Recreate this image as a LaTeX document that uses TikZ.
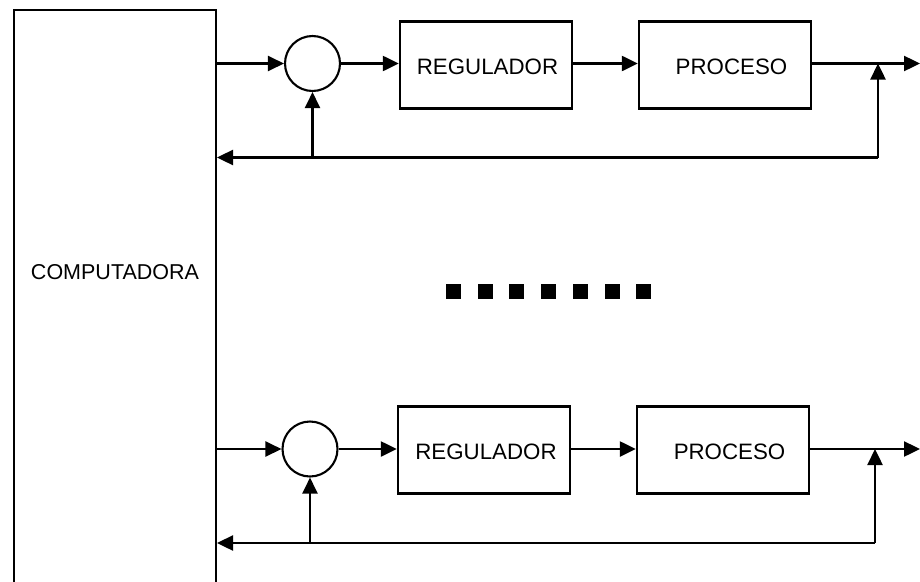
\documentclass[tikz,border=0pt]{standalone}
\usepackage{fontspec}
\setmainfont{Liberation Sans}
\usetikzlibrary{arrows.meta}
\begin{document}
\begin{tikzpicture}[x=1pt,y=-1pt,
  line/.style={line width=2.4pt},
  arr/.style={line width=2.4pt,-{Triangle[length=16pt,width=15pt]}},
  blk/.style={draw,line width=2.4pt,rectangle,minimum width=172pt,minimum height=87pt,inner sep=0pt},
  sumc/.style={draw,line width=2.1pt,circle,minimum size=55pt,inner sep=0pt},
  lbl/.style={font=\fontsize{22.3}{25}\selectfont,inner sep=0pt},
  clbl/.style={font=\fontsize{21.5}{24}\selectfont,inner sep=0pt},
  dot/.style={fill=black,minimum size=15pt,inner sep=0pt,rectangle}]
\clip (0,0) rectangle (920,581);
\fill[white] (0,0) rectangle (920,581);
% computer
\draw[line] (14,600) -- (14,10) -- (216,10) -- (216,600);
\node[clbl] (comp) at (115,272) {COMPUTADORA};
% ---- row 1
\node[sumc] (s1) at (312.5,63.5) {};
\node[blk] (r1) at (486,65) {};
\node[lbl] (r1t) at (487.5,66.5) {REGULADOR};
\node[blk] (p1) at (725,65) {};
\node[lbl] (p1t) at (731.5,66.5) {PROCESO};
\coordinate (in1) at (216,63.5);
\coordinate (j1) at (878,63.5);
\coordinate (c1) at (878,157.5);
\coordinate (fb1) at (217,157.5);
\coordinate (out1) at (920,63.5);
\draw[arr] (in1) -- (s1.west);
\draw[arr] (s1.east) -- (r1.west |- s1.east);
\draw[arr] (r1.east |- s1.east) -- (p1.west |- s1.east);
\draw[arr] (p1.east |- s1.east) -- (out1);
\draw[arr] (c1) -- (j1);
\draw[arr] (c1) -- (fb1);
\draw[arr] (s1.south |- c1) -- (s1.south);
% ---- row 2
\node[sumc] (s2) at (310,449) {};
\node[blk] (r2) at (484,450) {};
\node[lbl] (r2t) at (486,452) {REGULADOR};
\node[blk] (p2) at (723,450) {};
\node[lbl] (p2t) at (729.5,452) {PROCESO};
\coordinate (in2) at (216,449);
\coordinate (j2) at (875,449);
\coordinate (c2) at (875,543);
\coordinate (fb2) at (217,543);
\coordinate (out2) at (920,449);
\draw[arr] (in2) -- (s2.west);
\draw[arr] (s2.east) -- (r2.west |- s2.east);
\draw[arr] (r2.east |- s2.east) -- (p2.west |- s2.east);
\draw[arr] (p2.east |- s2.east) -- (out2);
\draw[arr] (c2) -- (j2);
\draw[arr] (c2) -- (fb2);
\draw[arr] (s2.south |- c2) -- (s2.south);
% dots
\foreach \i in {0,...,6}{
  \node[dot] (d\i) at (453.5+31.7*\i,291.5) {};
}
\end{tikzpicture}
\end{document}
